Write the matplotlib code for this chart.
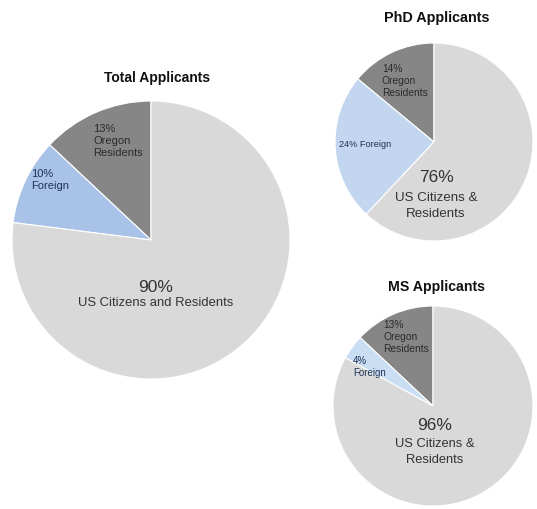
import matplotlib
matplotlib.use("Agg")
import matplotlib.pyplot as plt

plt.rcParams['font.family'] = ['Liberation Sans', 'DejaVu Sans']

# ---- data ----
groups = ["Total Applicants", "PhD Applicants", "MS Applicants"]
oregon_pct = [13, 14, 13]     # Oregon residents (subset of US citizens & residents)
foreign_pct = [10, 24, 4]
us_pct = [90, 76, 96]          # US citizens & residents (incl. Oregon)
us_labels = ["US Citizens and Residents", "US Citizens &\nResidents", "US Citizens &\nResidents"]

# ---- layout (pixels) ----
W, H = 537, 510
centers = [(151, 241), (434, 143), (433, 407)]
radii = [139, 99, 100]
blue_cols = ["#a9c3e8", "#c3d6f0", "#c9def3"]
gray_light = "#d9d9d9"
gray_dark = "#868686"

# label offsets in pixels relative to pie centre: (dx, dy) with dy downward
layout = [
    dict(ore=(-58, -100), ore_sz=8.0, for_=(-120, -61), for_sz=8.0,
         big=(5, 47), big_sz=12.5, sub=(5, 62), sub_sz=9.4, sub_va='center',
         title_y=78, title_x=157, title_sz=10.0, foreign_text="{}%\nForeign"),
    dict(ore=(-52, -62), ore_sz=7.4, for_=(-95, 2), for_sz=6.6,
         big=(2, 35), big_sz=12.5, sub=(2, 49), sub_sz=9.6, sub_va='top',
         title_y=18, title_x=437, title_sz=10.4, foreign_text="{}% Foreign"),
    dict(ore=(-50, -70), ore_sz=7.4, for_=(-80, -40), for_sz=7.0,
         big=(2, 19), big_sz=12.5, sub=(2, 31), sub_sz=9.3, sub_va='top',
         title_y=287, title_x=437, title_sz=10.2, foreign_text="{}%\nForeign"),
]

fig = plt.figure(figsize=(W / 100, H / 100), dpi=100)
fig.patch.set_facecolor("white")

for i, g in enumerate(groups):
    cx, cy = centers[i]
    r = radii[i]
    ax = fig.add_axes([(cx - r) / W, (H - cy - r) / H, 2 * r / W, 2 * r / H])
    sizes = [oregon_pct[i], foreign_pct[i], us_pct[i] - oregon_pct[i]]
    ax.pie(sizes, colors=[gray_dark, blue_cols[i], gray_light], startangle=90,
           counterclock=True, radius=1,
           wedgeprops=dict(edgecolor="white", linewidth=0.8))
    ax.set_xlim(-1, 1)
    ax.set_ylim(-1, 1)
    ax.set_aspect('equal')
    ax.axis('off')
    L = layout[i]

    def tp(d):
        return d[0] / r, -d[1] / r

    ax.text(*tp(L['ore']), f"{oregon_pct[i]}%\nOregon\nResidents", ha='left',
            va='center', fontsize=L['ore_sz'], color="#2b2b2b", linespacing=1.3)
    ax.text(*tp(L['for_']), L['foreign_text'].format(foreign_pct[i]), ha='left',
            va='center', fontsize=L['for_sz'], color="#1f3358", linespacing=1.25)
    ax.text(*tp(L['big']), f"{us_pct[i]}%", ha='center', va='center',
            fontsize=L['big_sz'], color="#333333")
    ax.text(*tp(L['sub']), us_labels[i], ha='center', va=L['sub_va'],
            fontsize=L['sub_sz'], color="#333333", linespacing=1.4)

    fig.text(L['title_x'] / W, 1 - L['title_y'] / H, g, ha='center', va='center',
             fontsize=L['title_sz'], fontweight='bold', color="#111111")

fig.savefig("out.png", dpi=100, facecolor="white")
